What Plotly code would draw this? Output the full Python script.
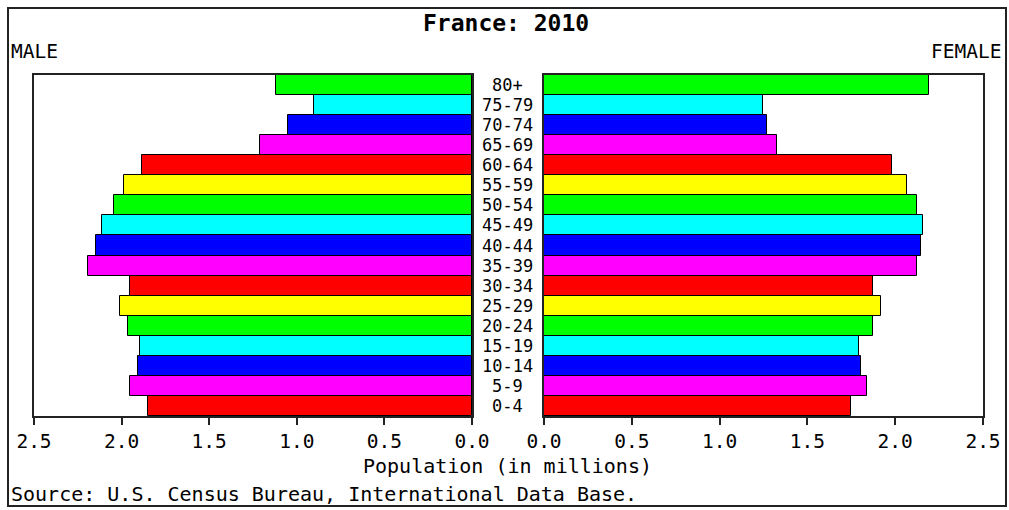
import plotly.graph_objects as go

ages = ["0-4", "5-9", "10-14", "15-19", "20-24", "25-29", "30-34", "35-39",
        "40-44", "45-49", "50-54", "55-59", "60-64", "65-69", "70-74", "75-79", "80+"]
male = [1.849, 1.950, 1.906, 1.895, 1.962, 2.009, 1.952, 2.190,
        2.146, 2.112, 2.042, 1.985, 1.882, 1.208, 1.050, 0.900, 1.119]
female = [1.750, 1.841, 1.807, 1.793, 1.875, 1.919, 1.875, 2.126,
          2.149, 2.158, 2.126, 2.069, 1.979, 1.327, 1.268, 1.248, 2.194]
tick_vals = [0.0, 0.5, 1.0, 1.5, 2.0, 2.5]
title = "France: 2010"
source = "Source: U.S. Census Bureau, International Data Base."
axis_title = "Population (in millions)"

palette = ["#FF0000", "#FF00FF", "#0000FF", "#00FFFF", "#00FF00", "#FFFF00"]
colors = [palette[i % 6] for i in range(len(ages))]

W, H = 1009, 510
FONT = "DejaVu Sans Mono"
FS = 19.5
FS_LONG = 20
FS_AGE = 17

def px(x):
    return x / W

def py(y):
    return 1 - y / H

fig = go.Figure()
fig.add_trace(go.Bar(y=ages, x=male, orientation="h", xaxis="x", yaxis="y",
                     marker=dict(color=colors, line=dict(color="black", width=1)),
                     width=1, showlegend=False, hoverinfo="x+y"))
fig.add_trace(go.Bar(y=ages, x=female, orientation="h", xaxis="x2", yaxis="y2",
                     marker=dict(color=colors, line=dict(color="black", width=1)),
                     width=1, showlegend=False, hoverinfo="x+y"))

ydom = [py(416), py(75)]
axis_common = dict(showline=True, mirror=True, linecolor="#222", linewidth=2,
                   ticks="outside", ticklen=7, tickwidth=2, tickcolor="#222",
                   tickvals=tick_vals, tickformat=".1f", showgrid=False, zeroline=False,
                   automargin=False,
                   tickfont=dict(family=FONT, size=FS, color="black"), fixedrange=True)
yaxis_common = dict(type="category", categoryorder="array", categoryarray=ages,
                    range=[-0.5, len(ages) - 0.5], showticklabels=False, ticks="",
                    showline=True, mirror=True, linecolor="#222", linewidth=2,
                    automargin=False,
                    showgrid=False, zeroline=False, domain=ydom, fixedrange=True)

fig.update_layout(
    width=W, height=H, autosize=False,
    margin=dict(l=0, r=0, t=0, b=0, pad=0, autoexpand=False),
    paper_bgcolor="white", plot_bgcolor="white",
    xaxis=dict(domain=[px(34), px(472)], range=[2.5, 0], anchor="y", **axis_common),
    xaxis2=dict(domain=[px(544), px(983)], range=[0, 2.5], anchor="y2", **axis_common),
    yaxis=dict(anchor="x", **yaxis_common),
    yaxis2=dict(anchor="x2", **yaxis_common),
    bargap=0,
    shapes=[dict(type="rect", xref="paper", yref="paper",
                 x0=px(8), x1=px(1006), y0=py(506), y1=py(8),
                 line=dict(color="#222", width=2), fillcolor="rgba(0,0,0,0)")],
)

ann = []
ann.append(dict(text="<b>" + title + "</b>", x=px(506), y=py(23), xref="paper", yref="paper",
                showarrow=False, xanchor="center", yanchor="middle",
                font=dict(family=FONT, size=23, color="black")))
ann.append(dict(text="MALE", x=px(9), y=py(52), xref="paper", yref="paper",
                showarrow=False, xanchor="left", yanchor="middle",
                font=dict(family=FONT, size=FS, color="black")))
ann.append(dict(text="FEMALE", x=px(1003), y=py(52), xref="paper", yref="paper",
                showarrow=False, xanchor="right", yanchor="middle",
                font=dict(family=FONT, size=FS, color="black")))
ann.append(dict(text=axis_title, x=px(507), y=py(466), xref="paper", yref="paper",
                showarrow=False, xanchor="center", yanchor="middle",
                font=dict(family=FONT, size=FS_LONG, color="black")))
ann.append(dict(text=source, x=px(9), y=py(494), xref="paper", yref="paper",
                showarrow=False, xanchor="left", yanchor="middle",
                font=dict(family=FONT, size=FS_LONG, color="black")))
for a in ages:
    ann.append(dict(text=a, x=px(507), y=a, xref="paper", yref="y",
                    showarrow=False, xanchor="center", yanchor="middle",
                    font=dict(family=FONT, size=FS_AGE, color="black")))
fig.update_layout(annotations=ann)

fig.write_html("out.html", config={"displayModeBar": False},
               post_script="document.body.style.margin='0';document.body.style.overflow='hidden';")
